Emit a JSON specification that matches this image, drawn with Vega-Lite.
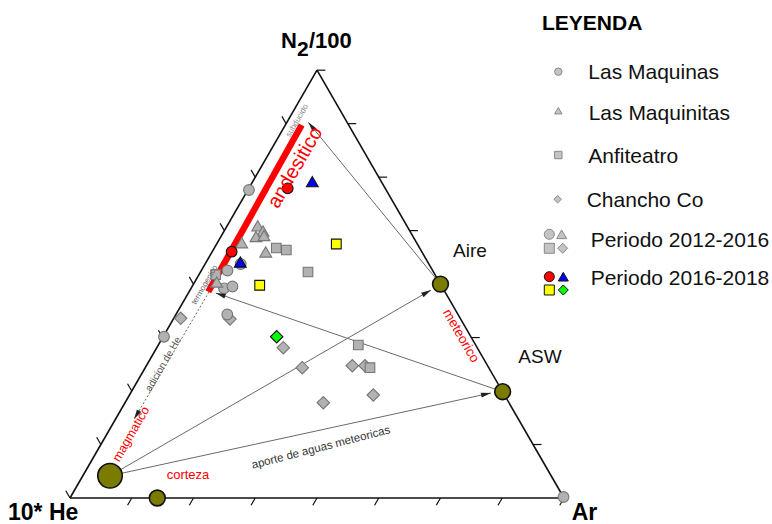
{
  "$schema": "https://vega.github.io/schema/vega-lite/v6.json",
  "width": 772,
  "height": 524,
  "autosize": {"type": "none"},
  "padding": 0,
  "background": "white",
  "config": {"view": {"stroke": null}, "text": {"font": "Liberation Sans"}},
  "datasets": {
    "samples": [
      {"x": 36.23, "y": 62.35, "site": "Las Maquinas", "period": "2012-2016"},
      {"x": 34.55, "y": 47.37, "site": "Las Maquinas", "period": "2012-2016"},
      {"x": 31.88, "y": 46.05, "site": "Las Maquinas", "period": "2012-2016"},
      {"x": 31.17, "y": 42.45, "site": "Las Maquinas", "period": "2012-2016"},
      {"x": 32.89, "y": 42.81, "site": "Las Maquinas", "period": "2012-2016"},
      {"x": 31.84, "y": 37.15, "site": "Las Maquinas", "period": "2012-2016"},
      {"x": 19.03, "y": 32.65, "site": "Las Maquinas", "period": "2012-2016"},
      {"x": 99.9, "y": 0.2, "site": "Las Maquinas", "period": "2012-2016"},
      {"x": 38.0, "y": 55.1, "site": "Las Maquinitas", "period": "2012-2016"},
      {"x": 39.07, "y": 54.05, "site": "Las Maquinitas", "period": "2012-2016"},
      {"x": 37.65, "y": 52.94, "site": "Las Maquinitas", "period": "2012-2016"},
      {"x": 39.27, "y": 53.14, "site": "Las Maquinitas", "period": "2012-2016"},
      {"x": 34.76, "y": 51.68, "site": "Las Maquinitas", "period": "2012-2016"},
      {"x": 39.62, "y": 49.8, "site": "Las Maquinitas", "period": "2012-2016"},
      {"x": 29.7, "y": 43.72, "site": "Las Maquinitas", "period": "2012-2016"},
      {"x": 41.76, "y": 50.61, "site": "Anfiteatro", "period": "2012-2016"},
      {"x": 43.79, "y": 50.2, "site": "Anfiteatro", "period": "2012-2016"},
      {"x": 48.18, "y": 45.75, "site": "Anfiteatro", "period": "2012-2016"},
      {"x": 29.49, "y": 45.2, "site": "Anfiteatro", "period": "2012-2016"},
      {"x": 58.36, "y": 30.97, "site": "Anfiteatro", "period": "2012-2016"},
      {"x": 60.73, "y": 26.38, "site": "Anfiteatro", "period": "2012-2016"},
      {"x": 22.41, "y": 36.38, "site": "Chancho Co", "period": "2012-2016"},
      {"x": 32.39, "y": 36.23, "site": "Chancho Co", "period": "2012-2016"},
      {"x": 43.18, "y": 30.43, "site": "Chancho Co", "period": "2012-2016"},
      {"x": 47.02, "y": 26.38, "site": "Chancho Co", "period": "2012-2016"},
      {"x": 57.15, "y": 26.78, "site": "Chancho Co", "period": "2012-2016"},
      {"x": 59.72, "y": 26.78, "site": "Chancho Co", "period": "2012-2016"},
      {"x": 61.4, "y": 20.85, "site": "Chancho Co", "period": "2012-2016"},
      {"x": 51.28, "y": 19.29, "site": "Chancho Co", "period": "2012-2016"},
      {"x": 44.07, "y": 62.69, "site": "Las Maquinas", "period": "2016-2018"},
      {"x": 32.73, "y": 49.86, "site": "Las Maquinas", "period": "2016-2018"},
      {"x": 49.05, "y": 64.03, "site": "Las Maquinitas", "period": "2016-2018"},
      {"x": 34.47, "y": 47.77, "site": "Las Maquinitas", "period": "2016-2018"},
      {"x": 53.91, "y": 51.42, "site": "Anfiteatro", "period": "2016-2018"},
      {"x": 38.4, "y": 43.06, "site": "Anfiteatro", "period": "2016-2018"},
      {"x": 41.84, "y": 32.65, "site": "Chancho Co", "period": "2016-2018"}
    ],
    "legendSingle": [
      {"x": 98.85, "y": 86.3, "site": "Las Maquinas"},
      {"x": 98.85, "y": 78.4, "site": "Las Maquinitas"},
      {"x": 98.85, "y": 69.43, "site": "Anfiteatro"},
      {"x": 98.72, "y": 60.47, "site": "Chancho Co"}
    ],
    "legendCombo": [
      {"x": 97.03, "y": 53.38, "site": "Las Maquinas", "period": "2012-2016"},
      {"x": 99.53, "y": 53.38, "site": "Las Maquinitas", "period": "2012-2016"},
      {"x": 97.03, "y": 50.55, "site": "Anfiteatro", "period": "2012-2016"},
      {"x": 99.74, "y": 50.55, "site": "Chancho Co", "period": "2012-2016"},
      {"x": 97.03, "y": 44.8, "site": "Las Maquinas", "period": "2016-2018"},
      {"x": 99.86, "y": 44.8, "site": "Las Maquinitas", "period": "2016-2018"},
      {"x": 97.03, "y": 42.11, "site": "Anfiteatro", "period": "2016-2018"},
      {"x": 99.86, "y": 42.11, "site": "Chancho Co", "period": "2016-2018"}
    ]
  },
  "encoding": {
    "x": {"field": "x", "type": "quantitative", "scale": {"domain": [-14.17, 142.11], "nice": false, "zero": false}, "axis": null},
    "y": {"field": "y", "type": "quantitative", "scale": {"domain": [-5.26, 100.81], "nice": false, "zero": false}, "axis": null}
  },
  "layer": [
    {
      "data": {"values": [{"x": 46.9, "y": 75.51, "x2": 28.0, "y2": 41.76}]},
      "mark": {"type": "rule", "color": "#ff0000", "strokeWidth": 6.5},
      "encoding": {"x2": {"field": "x2"}, "y2": {"field": "y2"}}
    },
    {
      "data": {"values": [
        {"x": 0, "y": 0, "x2": 100, "y2": 0},
        {"x": 100, "y": 0, "x2": 50, "y2": 86.6},
        {"x": 50, "y": 86.6, "x2": 0, "y2": 0}
      ]},
      "mark": {"type": "rule", "color": "#111111", "strokeWidth": 1.6},
      "encoding": {"x2": {"field": "x2"}, "y2": {"field": "y2"}}
    },
    {
      "data": {"values": [
        {"x": 12.5, "y": 0, "x2": 11.65, "y2": -1.47},
        {"x": 25, "y": 0, "x2": 24.15, "y2": -1.47},
        {"x": 37.5, "y": 0, "x2": 36.65, "y2": -1.47},
        {"x": 50, "y": 0, "x2": 49.15, "y2": -1.47},
        {"x": 62.5, "y": 0, "x2": 61.65, "y2": -1.47},
        {"x": 75, "y": 0, "x2": 74.15, "y2": -1.47},
        {"x": 87.5, "y": 0, "x2": 86.65, "y2": -1.47},
        {"x": 100, "y": 0, "x2": 99.15, "y2": -1.47},
        {"x": 50, "y": 86.6, "x2": 51.7, "y2": 86.6},
        {"x": 56.25, "y": 75.78, "x2": 57.95, "y2": 75.78},
        {"x": 62.5, "y": 64.95, "x2": 64.2, "y2": 64.95},
        {"x": 68.75, "y": 54.13, "x2": 70.45, "y2": 54.13},
        {"x": 75, "y": 43.3, "x2": 76.7, "y2": 43.3},
        {"x": 81.25, "y": 32.48, "x2": 82.95, "y2": 32.48},
        {"x": 87.5, "y": 21.65, "x2": 89.2, "y2": 21.65},
        {"x": 93.75, "y": 10.83, "x2": 95.45, "y2": 10.83},
        {"x": 0, "y": 0, "x2": -0.85, "y2": 1.47},
        {"x": 6.25, "y": 10.83, "x2": 5.4, "y2": 12.3},
        {"x": 12.5, "y": 21.65, "x2": 11.65, "y2": 23.12},
        {"x": 18.75, "y": 32.48, "x2": 17.9, "y2": 33.95},
        {"x": 25, "y": 43.3, "x2": 24.15, "y2": 44.77},
        {"x": 31.25, "y": 54.13, "x2": 30.4, "y2": 55.6},
        {"x": 37.5, "y": 64.95, "x2": 36.65, "y2": 66.42},
        {"x": 43.75, "y": 75.78, "x2": 42.9, "y2": 77.25}
      ]},
      "mark": {"type": "rule", "color": "#111111", "strokeWidth": 1.2},
      "encoding": {"x2": {"field": "x2"}, "y2": {"field": "y2"}}
    },
    {
      "data": {"values": [
        {"x": 8.1, "y": 4.5, "x2": 73.08, "y2": 42.11},
        {"x": 8.1, "y": 4.5, "x2": 85.22, "y2": 21.26},
        {"x": 75, "y": 43.3, "x2": 48.24, "y2": 76.05},
        {"x": 87.58, "y": 21.52, "x2": 29.5, "y2": 41.5}
      ]},
      "mark": {"type": "rule", "color": "#6a6a6a", "strokeWidth": 1},
      "encoding": {"x2": {"field": "x2"}, "y2": {"field": "y2"}}
    },
    {
      "data": {"values": [{"x": 28.14, "y": 41.7, "x2": 12.96, "y2": 15.93}]},
      "mark": {"type": "rule", "color": "#666666", "strokeWidth": 1, "strokeDash": [2, 2]},
      "encoding": {"x2": {"field": "x2"}, "y2": {"field": "y2"}}
    },
    {
      "data": {"name": "samples"},
      "transform": [{"filter": "datum.period === '2012-2016' && datum.site === 'Chancho Co'"}],
      "mark": {"type": "point", "shape": "diamond", "filled": true, "fill": "#b2b2b2", "stroke": "#767676", "strokeWidth": 1.1, "opacity": 1, "size": 155}
    },
    {
      "data": {"name": "samples"},
      "transform": [{"filter": "datum.period === '2012-2016' && datum.site === 'Anfiteatro'"}],
      "mark": {"type": "point", "shape": "square", "filled": true, "fill": "#b2b2b2", "stroke": "#767676", "strokeWidth": 1.1, "opacity": 1, "size": 92}
    },
    {
      "data": {"name": "samples"},
      "transform": [{"filter": "datum.period === '2012-2016' && datum.site === 'Las Maquinas'"}],
      "mark": {"type": "point", "shape": "circle", "filled": true, "fill": "#b2b2b2", "stroke": "#767676", "strokeWidth": 1.1, "opacity": 1, "size": 115}
    },
    {
      "data": {"name": "samples"},
      "transform": [{"filter": "datum.period === '2012-2016' && datum.site === 'Las Maquinitas'"}],
      "mark": {"type": "point", "shape": "triangle-up", "filled": true, "fill": "#b2b2b2", "stroke": "#767676", "strokeWidth": 1.1, "opacity": 1, "size": 140}
    },
    {
      "data": {"name": "samples"},
      "transform": [{"filter": "datum.period === '2016-2018' && datum.site === 'Chancho Co'"}],
      "mark": {"type": "point", "shape": "diamond", "filled": true, "fill": "#00ff00", "stroke": "#111111", "strokeWidth": 1.1, "opacity": 1, "size": 155}
    },
    {
      "data": {"name": "samples"},
      "transform": [{"filter": "datum.period === '2016-2018' && datum.site === 'Anfiteatro'"}],
      "mark": {"type": "point", "shape": "square", "filled": true, "fill": "#ffff00", "stroke": "#111111", "strokeWidth": 1.1, "opacity": 1, "size": 95}
    },
    {
      "data": {"name": "samples"},
      "transform": [{"filter": "datum.period === '2016-2018' && datum.site === 'Las Maquinas'"}],
      "mark": {"type": "point", "shape": "circle", "filled": true, "fill": "#ff0000", "stroke": "#111111", "strokeWidth": 1.1, "opacity": 1, "size": 115}
    },
    {
      "data": {"name": "samples"},
      "transform": [{"filter": "datum.period === '2016-2018' && datum.site === 'Las Maquinitas'"}],
      "mark": {"type": "point", "shape": "triangle-up", "filled": true, "fill": "#0000ff", "stroke": "#111111", "strokeWidth": 1.1, "opacity": 1, "size": 140}
    },
    {
      "data": {"values": [{"x": 8.1, "y": 4.5, "name": "magmatico"}]},
      "mark": {"type": "point", "shape": "circle", "filled": true, "fill": "#7b7b00", "stroke": "#111111", "strokeWidth": 1.6, "opacity": 1, "size": 600}
    },
    {
      "data": {"values": [
        {"x": 17.67, "y": 0, "name": "corteza"},
        {"x": 75, "y": 43.3, "name": "Aire"},
        {"x": 87.58, "y": 21.52, "name": "ASW"}
      ]},
      "mark": {"type": "point", "shape": "circle", "filled": true, "fill": "#7b7b00", "stroke": "#111111", "strokeWidth": 1.6, "opacity": 1, "size": 250}
    },
    {
      "data": {"values": [
        {"x": 73.08, "y": 42.11, "id": "a1"},
        {"x": 85.22, "y": 21.26, "id": "a2"},
        {"x": 48.24, "y": 76.05, "id": "a3"},
        {"x": 29.5, "y": 41.5, "id": "a4"},
        {"x": 12.96, "y": 15.93, "id": "a5"}
      ]},
      "mark": {"type": "point", "shape": "M0,0L0.5,2L-0.5,2Z", "filled": true, "fill": "#222222", "strokeWidth": 0, "size": 100, "opacity": 1},
      "encoding": {
        "angle": {"field": "id", "type": "nominal", "scale": {"type": "ordinal", "domain": ["a1", "a2", "a3", "a4", "a5"], "range": [59.9, 77.7, -39.3, -71, -149.5]}, "legend": null}
      }
    },
    {
      "data": {"name": "legendSingle"},
      "mark": {"type": "point", "filled": true, "fill": "#c4c4c4", "stroke": "#888888", "strokeWidth": 1, "opacity": 1, "size": 55},
      "encoding": {
        "shape": {"field": "site", "type": "nominal", "scale": {"domain": ["Las Maquinas", "Las Maquinitas", "Anfiteatro", "Chancho Co"], "range": ["circle", "triangle-up", "square", "diamond"]}, "legend": null}
      }
    },
    {
      "data": {"name": "legendCombo"},
      "transform": [{"filter": "datum.period === '2012-2016'"}],
      "mark": {"type": "point", "filled": true, "fill": "#c4c4c4", "stroke": "#888888", "strokeWidth": 1, "opacity": 1, "size": 100},
      "encoding": {
        "shape": {"field": "site", "type": "nominal", "scale": {"domain": ["Las Maquinas", "Las Maquinitas", "Anfiteatro", "Chancho Co"], "range": ["circle", "triangle-up", "square", "diamond"]}, "legend": null}
      }
    },
    {
      "data": {"name": "legendCombo"},
      "transform": [{"filter": "datum.period === '2016-2018'"}],
      "mark": {"type": "point", "filled": true, "stroke": "#111111", "strokeWidth": 1, "opacity": 1, "size": 100},
      "encoding": {
        "shape": {"field": "site", "type": "nominal", "scale": {"domain": ["Las Maquinas", "Las Maquinitas", "Anfiteatro", "Chancho Co"], "range": ["circle", "triangle-up", "square", "diamond"]}, "legend": null},
        "fill": {"field": "site", "type": "nominal", "scale": {"domain": ["Las Maquinas", "Las Maquinitas", "Anfiteatro", "Chancho Co"], "range": ["#ff0000", "#0000ff", "#ffff00", "#00ff00"]}, "legend": null}
      }
    },
    {
      "data": {"values": [
        {"x": 42.71, "y": 91.09, "text": "N"},
        {"x": 48.38, "y": 91.09, "text": "/100"}
      ]},
      "mark": {"type": "text", "font": "Liberation Sans", "fontWeight": "bold", "fontSize": 22, "align": "left", "baseline": "alphabetic", "color": "#000000"},
      "encoding": {"text": {"field": "text"}}
    },
    {
      "data": {"values": [{"x": 95.55, "y": 94.74, "text": "LEYENDA"}]},
      "mark": {"type": "text", "font": "Liberation Sans", "fontWeight": "bold", "fontSize": 21, "align": "left", "baseline": "alphabetic", "color": "#000000"},
      "encoding": {"text": {"field": "text"}}
    },
    {
      "data": {"values": [{"x": 45.95, "y": 89.47, "text": "2"}]},
      "mark": {"type": "text", "font": "Liberation Sans", "fontWeight": "bold", "fontSize": 21, "align": "left", "baseline": "alphabetic", "color": "#000000"},
      "encoding": {"text": {"field": "text"}}
    },
    {
      "data": {"values": [
        {"x": -12.55, "y": -4.45, "text": "10* He"},
        {"x": 101.56, "y": -4.45, "text": "Ar"}
      ]},
      "mark": {"type": "text", "font": "Liberation Sans", "fontWeight": "bold", "fontSize": 23, "align": "left", "baseline": "alphabetic", "color": "#000000"},
      "encoding": {"text": {"field": "text"}}
    },
    {
      "data": {"values": [
        {"x": 77.53, "y": 48.78, "text": "Aire"},
        {"x": 90.75, "y": 27.33, "text": "ASW"}
      ]},
      "mark": {"type": "text", "font": "Liberation Sans", "fontSize": 19, "align": "left", "baseline": "alphabetic", "color": "#111111"},
      "encoding": {"text": {"field": "text"}}
    },
    {
      "data": {"values": [
        {"x": 104.92, "y": 84.82, "text": "Las Maquinas"},
        {"x": 105.0, "y": 76.52, "text": "Las Maquinitas"},
        {"x": 104.92, "y": 67.75, "text": "Anfiteatro"},
        {"x": 104.6, "y": 58.97, "text": "Chancho Co"},
        {"x": 105.4, "y": 50.87, "text": "Periodo 2012-2016"},
        {"x": 105.4, "y": 43.12, "text": "Periodo 2016-2018"}
      ]},
      "mark": {"type": "text", "font": "Liberation Sans", "fontSize": 21, "align": "left", "baseline": "alphabetic", "color": "#111111"},
      "encoding": {"text": {"field": "text"}}
    },
    {
      "data": {"values": [{"x": 45.6, "y": 66.9, "text": "andesitico"}]},
      "mark": {"type": "text", "font": "Liberation Sans", "fontSize": 20, "angle": -60, "align": "center", "baseline": "middle", "color": "#ff0000"},
      "encoding": {"text": {"field": "text"}}
    },
    {
      "data": {"values": [{"x": 12.35, "y": 12.96, "text": "magmatico"}]},
      "mark": {"type": "text", "font": "Liberation Sans", "fontSize": 12.5, "angle": -60, "align": "center", "baseline": "middle", "color": "#ff0000"},
      "encoding": {"text": {"field": "text"}}
    },
    {
      "data": {"values": [{"x": 79.11, "y": 32.83, "text": "meteorico"}]},
      "mark": {"type": "text", "font": "Liberation Sans", "fontSize": 13.5, "angle": 60, "align": "center", "baseline": "middle", "color": "#ff0000"},
      "encoding": {"text": {"field": "text"}}
    },
    {
      "data": {"values": [{"x": 23.89, "y": 4.66, "text": "corteza"}]},
      "mark": {"type": "text", "font": "Liberation Sans", "fontSize": 13, "align": "center", "baseline": "middle", "color": "#ff0000"},
      "encoding": {"text": {"field": "text"}}
    },
    {
      "data": {"values": [{"x": 46.05, "y": 76.36, "text": "subducido"}]},
      "mark": {"type": "text", "font": "Liberation Sans", "fontSize": 8, "angle": -60, "align": "center", "baseline": "middle", "color": "#888888"},
      "encoding": {"text": {"field": "text"}}
    },
    {
      "data": {"values": [{"x": 27.33, "y": 43.12, "text": "termogenico"}]},
      "mark": {"type": "text", "font": "Liberation Sans", "fontSize": 8, "angle": -60, "align": "center", "baseline": "middle", "color": "#666666"},
      "encoding": {"text": {"field": "text"}}
    },
    {
      "data": {"values": [{"x": 18.89, "y": 27.09, "text": "adicion de He"}]},
      "mark": {"type": "text", "font": "Liberation Sans", "fontSize": 10, "angle": -60, "align": "center", "baseline": "middle", "color": "#555555"},
      "encoding": {"text": {"field": "text"}}
    },
    {
      "data": {"values": [{"x": 50.81, "y": 10.12, "text": "aporte de aguas meteoricas"}]},
      "mark": {"type": "text", "font": "Liberation Sans", "fontSize": 11.5, "angle": -14.5, "align": "center", "baseline": "middle", "color": "#333333"},
      "encoding": {"text": {"field": "text"}}
    }
  ]
}
